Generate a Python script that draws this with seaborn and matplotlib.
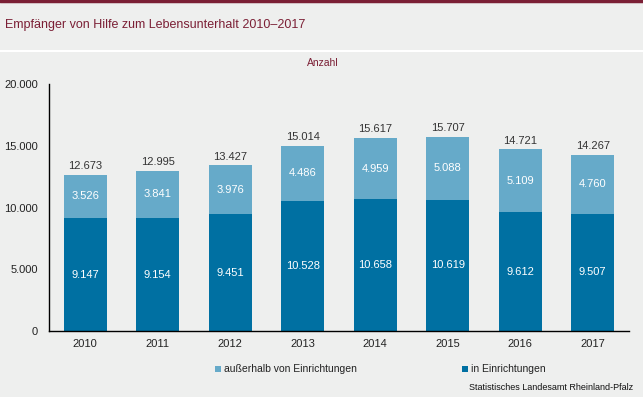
import matplotlib
matplotlib.use("Agg")
import matplotlib.pyplot as plt
from matplotlib.lines import Line2D
from matplotlib.patches import Rectangle
import seaborn as sns
import pandas as pd

# data
years = ["2010", "2011", "2012", "2013", "2014", "2015", "2016", "2017"]
in_einr = [9147, 9154, 9451, 10528, 10658, 10619, 9612, 9507]
ausser_einr = [3526, 3841, 3976, 4486, 4959, 5088, 5109, 4760]
totals = [a + b for a, b in zip(in_einr, ausser_einr)]

dark = "#0070A2"
light = "#66AAC9"
bg = "#EEEFEE"
red = "#7B1F35"

def fmt(v):
    return f"{v:,.0f}".replace(",", ".")

sns.set_style("white")
plt.rcParams["font.family"] = ["Liberation Sans", "DejaVu Sans"]

df = pd.DataFrame({"Jahr": years, "in": in_einr, "ausser": ausser_einr, "gesamt": totals})

fig = plt.figure(figsize=(6.43, 3.97), dpi=100, facecolor=bg)
ax = fig.add_axes([0.0762, 0.1662, 0.902, 0.622])
ax.set_facecolor(bg)

# stacked bars: total in light, lower part in dark on top of it
sns.barplot(data=df, x="Jahr", y="gesamt", color=light, width=0.59, ax=ax,
            saturation=1, edgecolor="none")
sns.barplot(data=df, x="Jahr", y="in", color=dark, width=0.59, ax=ax,
            saturation=1, edgecolor="none")

for i in range(len(years)):
    ax.text(i, in_einr[i] / 2, fmt(in_einr[i]), ha="center", va="center",
            color="white", fontsize=8)
    ax.text(i, in_einr[i] + ausser_einr[i] / 2, fmt(ausser_einr[i]), ha="center",
            va="center", color="white", fontsize=8)
    ax.text(i, totals[i] + 300, fmt(totals[i]), ha="center", va="bottom",
            color="#333333", fontsize=8)

ax.set_xlim(-0.5, len(years) - 0.5)
ax.set_ylim(0, 20000)
ax.set_yticks([0, 5000, 10000, 15000, 20000])
ax.set_yticklabels([fmt(v) for v in [0, 5000, 10000, 15000, 20000]])
ax.set_xticks(range(len(years)))
ax.set_xticks([i + 0.5 for i in range(-1, len(years))], minor=True)
ax.tick_params(axis="x", which="major", length=0, labelsize=8, pad=6, colors="#222222")
ax.tick_params(axis="x", which="minor", length=4, width=1, color="black", direction="out")
ax.tick_params(axis="y", length=4, width=1, labelsize=8, pad=4, colors="#222222",
               direction="out")
ax.tick_params(axis="both", which="both", color="black")
ax.set_xlabel("")
ax.set_ylabel("")
for s in ["top", "right"]:
    ax.spines[s].set_visible(False)
for s in ["left", "bottom"]:
    ax.spines[s].set_color("black")
    ax.spines[s].set_linewidth(1)

# header band
fig.add_artist(Line2D([0, 1], [1 - 1 / 397, 1 - 1 / 397], color=red, lw=2.5))
fig.add_artist(Line2D([0, 1], [1 - 51 / 397, 1 - 51 / 397], color="white", lw=1.5))
fig.text(5 / 643, 1 - 25 / 397, "Empfänger von Hilfe zum Lebensunterhalt 2010–2017",
         color=red, fontsize=9, va="center", ha="left")
fig.text(323 / 643, 1 - 63 / 397, "Anzahl", color=red, fontsize=7.5,
         va="center", ha="center")

# legend
for x0, col, label in [(215, light, "außerhalb von Einrichtungen"),
                       (462, dark, "in Einrichtungen")]:
    fig.add_artist(Rectangle((x0 / 643, 1 - 372 / 397), 6 / 643, 6 / 397,
                             facecolor=col, edgecolor="none"))
    fig.text((x0 + 9) / 643, 1 - 369 / 397, label, color="#222222", fontsize=7.5,
             va="center", ha="left")

fig.text(633 / 643, 1 - 388 / 397, "Statistisches Landesamt Rheinland-Pfalz",
         color="#111111", fontsize=6.5, va="center", ha="right")

fig.savefig("out.png", dpi=100, facecolor=bg)
